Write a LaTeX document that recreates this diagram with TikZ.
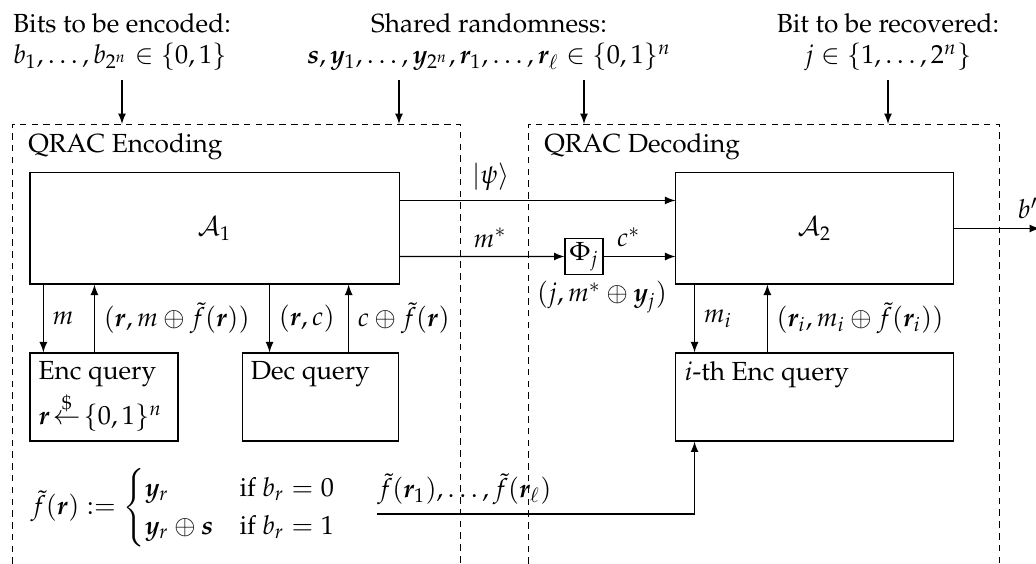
\documentclass[tikz,border=0pt]{standalone}
\usepackage[T1]{fontenc}
\usepackage{mathpazo}
\usepackage{amsmath,bm}
\usetikzlibrary{calc}
\tikzset{blk/.style = {draw, inner sep=0pt},
         frame/.style = {dash pattern=on 2.5pt off 2pt, line width=0.35pt},
         boxtxt/.style = {anchor=north west, align=left}}

\begin{document}
\begin{tikzpicture}[x=0.3818pt, y=-0.3818pt, >=latex]
    \useasboundingbox (0,0) rectangle (1036,564);
    % inputs
    \node[align=left]   (bits)   at (122,42) {Bits to be encoded:\\ $b_1,\dots,b_{2^n}\in\{0,1\}$};
    \node[align=center] (shared) at (489,42) {Shared randomness:\\ $\bm s,\bm y_1,\dots,\bm y_{2^n},\bm r_1,\dots,\bm r_\ell\in\{0,1\}^n$};
    \node[align=center] (recov)  at (888,42) {Bit to be recovered:\\ $j\in\{1,\dots,2^n\}$};
    % frames
    \coordinate (sr1) at (399,124); \coordinate (sr2) at (584,124);
    \draw[frame] (12,564) |- (460,124) -- (460,564);
    \draw[frame] (528,564) |- (999,124) -- (999,564);
    \node[anchor=west] (enclab) at (19,147) {QRAC Encoding};
    \node[anchor=west] (declab) at (535,147) {QRAC Decoding};
    \draw[->] (bits.south) -- (bits.south |- sr1);
    \draw[->] (sr1 |- shared.south) -- (sr1);
    \draw[->] (sr2 |- shared.south) -- (sr2);
    \draw[->] (recov.south) -- (recov.south |- sr1);
    % boxes
    \node[blk, minimum width=140.9pt, minimum height=42.4pt] (a1)  at (214.5,228.5) {$\mathcal{A}_1$};
    \node[blk, minimum width=105.8pt, minimum height=42.4pt] (a2)  at (814.5,228.5) {$\mathcal{A}_2$};
    \node[blk, minimum width=14.5pt,  minimum height=14.1pt] (phi) at (584,256.5)   {$\Phi_j$};
    \node[blk, minimum width=56.5pt,  minimum height=33.6pt] (enc) at (104,397)     {};
    \node[blk, minimum width=59.9pt,  minimum height=33.6pt] (dec) at (320.5,397)   {};
    \node[blk, minimum width=105.8pt, minimum height=33.6pt] (iq)  at (814.5,397)   {};
    \node[boxtxt] (enctxt) at (enc.north west) {Enc query\\[1pt] $\bm r\!\overset{\$}{\leftarrow}\!\{0,1\}^n$};
    \node[boxtxt] (dectxt) at (dec.north west) {Dec query};
    \node[boxtxt] (iqtxt)  at (iq.north west)  {$i$-th Enc query};
    % queries
    \coordinate (p1) at ([xshift=5.3pt]enc.north west);
    \coordinate (p2) at ([xshift=24.8pt]enc.north west);
    \coordinate (p3) at ([xshift=10.7pt]dec.north west);
    \coordinate (p4) at ([xshift=40.9pt]dec.north west);
    \coordinate (p5) at ([xshift=7.3pt]iq.north west);
    \coordinate (p6) at ([xshift=35.1pt]iq.north west);
    \draw[->] (p1 |- a1.south) -- node[right] {$m$} (p1);
    \draw[->] (p2) -- node[right] {$(\bm r, m\oplus\tilde f(\bm r))$} (p2 |- a1.south);
    \draw[->] (p3 |- a1.south) -- node[right] {$(\bm r, c)$} (p3);
    \draw[->] (p4) -- node[right] {$c\oplus\tilde f(\bm r)$} (p4 |- a1.south);
    \draw[->] (p5 |- a2.south) -- node[right] {$m_i$} (p5);
    \draw[->] (p6) -- node[right] {$(\bm r_i, m_i\oplus\tilde f(\bm r_i))$} (p6 |- a2.south);
    % channel
    \draw[->] ($(a1.north east)!.25!(a1.south east)$) -- node[above, pos=.33] {$|\psi\rangle$} ($(a2.north west)!.25!(a2.south west)$);
    \draw[->] ($(a1.north east)!.75!(a1.south east)$) -- node[above, pos=.55] {$m^*$} (phi);
    \draw[->] (phi) -- node[above, pos=.35] {$c^*$} (phi -| a2.west);
    \node (philab) at (602,297) {$(j, m^*\oplus\bm y_j)$};
    \coordinate (bout) at (1040,228.5);
    \draw[->] (a2.east) -- node[above, pos=.86] {$b'$} (bout);
    % f tilde
    \node (ftdef) at (184,508) {$\tilde f(\bm r) := \begin{cases} \bm y_r & \text{if } b_r = 0\\ \bm y_r\oplus\bm s & \text{if } b_r = 1\end{cases}$};
    \coordinate (fstart) at (377,514);
    \draw[->] (fstart) node[anchor=south west, inner xsep=0pt] {$\tilde f(\bm r_1),\dots,\tilde f(\bm r_\ell)$} -- (fstart -| p5) -- (p5 |- iq.south);
\end{tikzpicture}
\end{document}
